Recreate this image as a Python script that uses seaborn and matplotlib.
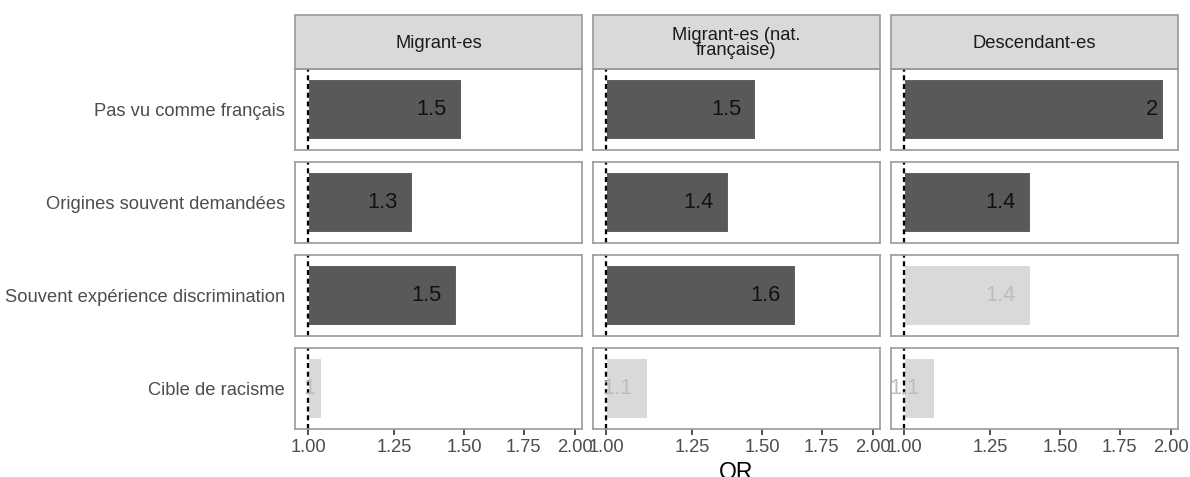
import pandas as pd
import seaborn as sns
import matplotlib.pyplot as plt
from matplotlib.patches import Rectangle
from matplotlib.ticker import NullLocator, NullFormatter
from matplotlib.transforms import offset_copy

items = ["Pas vu comme français", "Origines souvent demandées",
         "Souvent expérience discrimination", "Cible de racisme"]
groups = ["Migrant-es", "Migrant-es (nat.\nfrançaise)", "Descendant-es"]

or_migrant = [1.489, 1.312, 1.471, 1.037]
or_migrant_nat = [1.477, 1.375, 1.638, 1.115]
or_descendant = [1.964, 1.389, 1.389, 1.083]

sig_migrant = [True, True, True, False]
sig_migrant_nat = [True, True, True, False]
sig_descendant = [True, True, False, False]

x_ticks = [1.0, 1.25, 1.5, 1.75, 2.0]

rows = []
for grp, vals, sigs in zip(groups,
                           [or_migrant, or_migrant_nat, or_descendant],
                           [sig_migrant, sig_migrant_nat, sig_descendant]):
    for it, v, s in zip(items, vals, sigs):
        rows.append({"item": it, "groupe": grp, "OR": v, "signif": s})
df = pd.DataFrame(rows)

sns.set_style("white")
plt.rcParams["font.family"] = ["Liberation Sans", "DejaVu Sans"]

DARK = "#595959"
LIGHT = "#D9D9D9"
BORDER = "#9A9A9A"


def draw_bar(data, **kws):
    ax = plt.gca()
    r = data.iloc[0]
    ax.barh(0, r["OR"] - 1, left=1, height=0.9,
            color=DARK if r["signif"] else LIGHT, zorder=2)
    ax.axvline(1, color="black", lw=1.1, ls=(0, (2.2, 1.6)), zorder=3)
    lab = f"{round(r['OR'], 1):g}"
    ax.text(r["OR"], 0, lab, ha="right", va="center", fontsize=10.5,
            color="#111111" if r["signif"] else "#BDBDBD", zorder=4,
            gid="barlabel")


g = sns.FacetGrid(df, row="item", col="groupe", row_order=items,
                  col_order=groups, sharex=True, sharey=False,
                  height=0.8, aspect=3.5, despine=False)
g.map_dataframe(draw_bar)
g.set_titles(template="", row_template="", col_template="")
g.set_axis_labels("", "")
g.set(xscale="log", xlim=(0.967, 2.035), ylim=(-0.6, 0.6))

fig = g.figure
fig.set_size_inches(1190 / 150, 477 / 150)
fig.set_dpi(150)
fig.subplots_adjust(left=295 / 1190, right=1178 / 1190,
                    top=1 - 69 / 477, bottom=1 - 429 / 477,
                    wspace=11 / 287, hspace=12 / 81)

for i in range(len(items)):
    for j in range(len(groups)):
        ax = g.axes[i, j]
        ax.set_xticks(x_ticks)
        ax.xaxis.set_minor_locator(NullLocator())
        ax.xaxis.set_minor_formatter(NullFormatter())
        ax.set_xticklabels([f"{t:.2f}" for t in x_ticks])
        ax.tick_params(axis="x", length=2.75, width=0.8, color="#333333",
                       pad=2.2, labelsize=8.8, labelcolor="#4D4D4D",
                       bottom=(i == len(items) - 1))
        if j == 0:
            ax.set_yticks([0])
            ax.set_yticklabels([items[i]])
        else:
            ax.set_yticks([])
        ax.tick_params(axis="y", length=0, pad=4.9, labelsize=8.8,
                       labelcolor="#4D4D4D")
        for sp in ax.spines.values():
            sp.set_color(BORDER)
            sp.set_linewidth(0.8)
            sp.set_zorder(5)

for j, ax in enumerate(g.axes[0]):
    strip = Rectangle((0, 1), 1, 54 / 81, transform=ax.transAxes,
                      clip_on=False, facecolor=LIGHT, edgecolor=BORDER,
                      lw=0.8)
    ax.add_patch(strip)
    ax.text(0.5, 1 + 26 / 81, groups[j], transform=ax.transAxes,
            ha="center", va="center", fontsize=8.8, color="#1A1A1A",
            linespacing=0.9)

fig.text(736.5 / 1190, 1 - 461 / 477, "OR", ha="center", va="top",
         fontsize=11, color="black")

# shift bar labels left by half their width (like hjust = 1.5)
fig.canvas.draw()
renderer = fig.canvas.get_renderer()
for ax in g.axes.flat:
    for t in ax.texts:
        if t.get_gid() == "barlabel":
            w = t.get_window_extent(renderer).width
            t.set_transform(offset_copy(ax.transData, fig=fig,
                                        x=-w / 2, y=0, units="dots"))

fig.savefig("out.png", dpi=150)
